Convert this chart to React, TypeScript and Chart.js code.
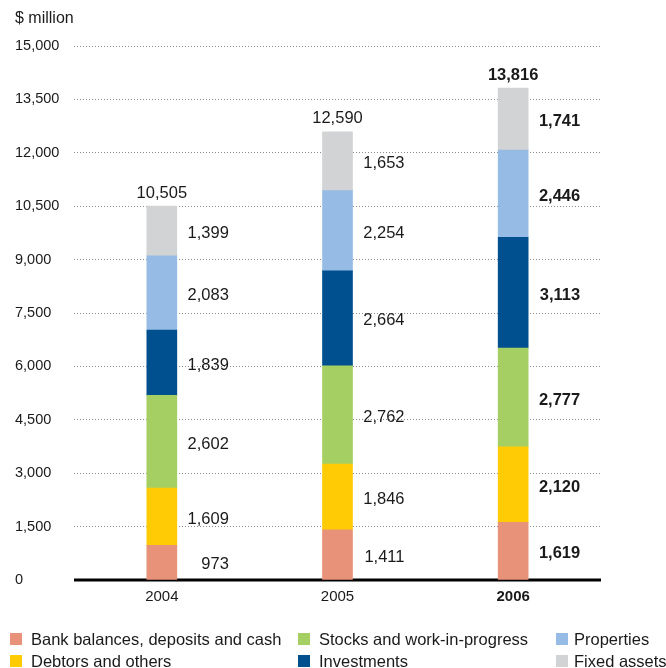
import React, { useEffect, useRef } from "react";
import { Chart, registerables } from "chart.js";

Chart.register(...registerables);

const years = ["2004", "2005", "2006"];
const bankBalances = [973, 1411, 1619];
const debtors = [1609, 1846, 2120];
const stocks = [2602, 2762, 2777];
const investments = [1839, 2664, 3113];
const properties = [2083, 2254, 2446];
const fixedAssets = [1399, 1653, 1741];
const totals = [10505, 12590, 13816];

const seriesNames = [
  "Bank balances, deposits and cash",
  "Debtors and others",
  "Stocks and work-in-progress",
  "Investments",
  "Properties",
  "Fixed assets",
];
const seriesColors = ["#E8927A", "#FFCB05", "#A6CF63", "#00508F", "#96BBE4", "#D1D3D4"];
const seriesValues = [bankBalances, debtors, stocks, investments, properties, fixedAssets];

const yMin = 0;
const yMax = 15000;
const yStep = 1500;
const yUnit = "$ million";

const FONT = "'Liberation Sans', Arial, Helvetica, sans-serif";
const TEXT = "#1a1a1a";

const fmt = (v: number) => v.toLocaleString("en-US");

const legendOrder = [0, 2, 4, 1, 3, 5];
const legendCols = [
  { mx: 10, tx: 31 },
  { mx: 298, tx: 319 },
  { mx: 556, tx: 574 },
];
const legendRows = [639, 661];

const overlayPlugin = {
  id: "overlay",
  beforeDatasetsDraw(chart: any) {
    const { ctx, chartArea, scales } = chart;
    const y0 = scales.y.getPixelForValue(0);
    ctx.save();
    ctx.strokeStyle = "#000";
    ctx.lineWidth = 3;
    ctx.beginPath();
    ctx.moveTo(chartArea.left, y0);
    ctx.lineTo(chartArea.right, y0);
    ctx.stroke();
    ctx.restore();
  },
  afterDatasetsDraw(chart: any) {
    const { ctx } = chart;
    ctx.save();
    ctx.fillStyle = TEXT;
    chart.data.datasets.forEach((ds: any, di: number) => {
      const meta = chart.getDatasetMeta(di);
      meta.data.forEach((bar: any, i: number) => {
        const bold = i === 2;
        ctx.font = `${bold ? "bold " : ""}16.5px ${FONT}`;
        ctx.textAlign = "right";
        ctx.textBaseline = "middle";
        const cy = (bar.y + bar.base) / 2 + 2.5;
        ctx.fillText(fmt(ds.data[i]), bar.x + 67, cy);
      });
    });
    const topMeta = chart.getDatasetMeta(chart.data.datasets.length - 1);
    topMeta.data.forEach((bar: any, i: number) => {
      const bold = i === 2;
      ctx.font = `${bold ? "bold " : ""}16.5px ${FONT}`;
      ctx.textAlign = "center";
      ctx.textBaseline = "middle";
      ctx.fillText(fmt(totals[i]), bar.x, bar.y - 13);
    });
    ctx.font = `16px ${FONT}`;
    ctx.textAlign = "left";
    ctx.textBaseline = "middle";
    ctx.fillText(yUnit, 15, 19);
    legendOrder.forEach((si, k) => {
      const row = Math.floor(k / 3);
      const col = k % 3;
      const cy = legendRows[row];
      const c = legendCols[col];
      ctx.fillStyle = chart.data.datasets[si].backgroundColor;
      ctx.fillRect(c.mx, cy - 6, 12, 12);
      ctx.fillStyle = TEXT;
      ctx.font = `16.5px ${FONT}`;
      ctx.fillText(chart.data.datasets[si].label, c.tx, cy + 1);
    });
    ctx.restore();
  },
};

export default function App() {
  const ref = useRef<HTMLCanvasElement>(null);

  useEffect(() => {
    if (!ref.current) return;
    const chart = new Chart(ref.current, {
      type: "bar",
      data: {
        labels: years,
        datasets: seriesValues.map((vals, i) => ({
          label: seriesNames[i],
          data: vals,
          backgroundColor: seriesColors[i],
          borderWidth: 0,
          barThickness: 30,
        })),
      },
      options: {
        responsive: false,
        animation: false,
        layout: { padding: { left: 15, top: 46, right: 65, bottom: 48 } },
        plugins: {
          legend: { display: false },
          tooltip: { enabled: false },
        },
        scales: {
          x: {
            stacked: true,
            grid: { display: false, drawTicks: false },
            border: { display: false },
            afterFit: (s: any) => {
              s.height = 40;
            },
            ticks: {
              padding: 8,
              color: TEXT,
              font: (c: any) => ({
                family: FONT,
                size: 15,
                weight: c.index === 2 ? "bold" : "normal",
              }),
            },
          },
          y: {
            stacked: true,
            min: yMin,
            max: yMax,
            afterFit: (s: any) => {
              s.width = 59;
            },
            grid: { color: "#8a8a8a", lineWidth: 1, drawTicks: false },
            border: { display: false, dash: [1, 2] },
            ticks: {
              stepSize: yStep,
              crossAlign: "far",
              color: TEXT,
              font: { family: FONT, size: 14.5 },
              callback: (v: any) => fmt(Number(v)),
            },
          },
        },
      },
      plugins: [overlayPlugin],
    });
    return () => chart.destroy();
  }, []);

  return (
    <div style={{ position: "fixed", left: 0, top: 0, width: 666, height: 668, background: "#fff" }}>
      <canvas ref={ref} width={666} height={668} style={{ display: "block" }} />
    </div>
  );
}
